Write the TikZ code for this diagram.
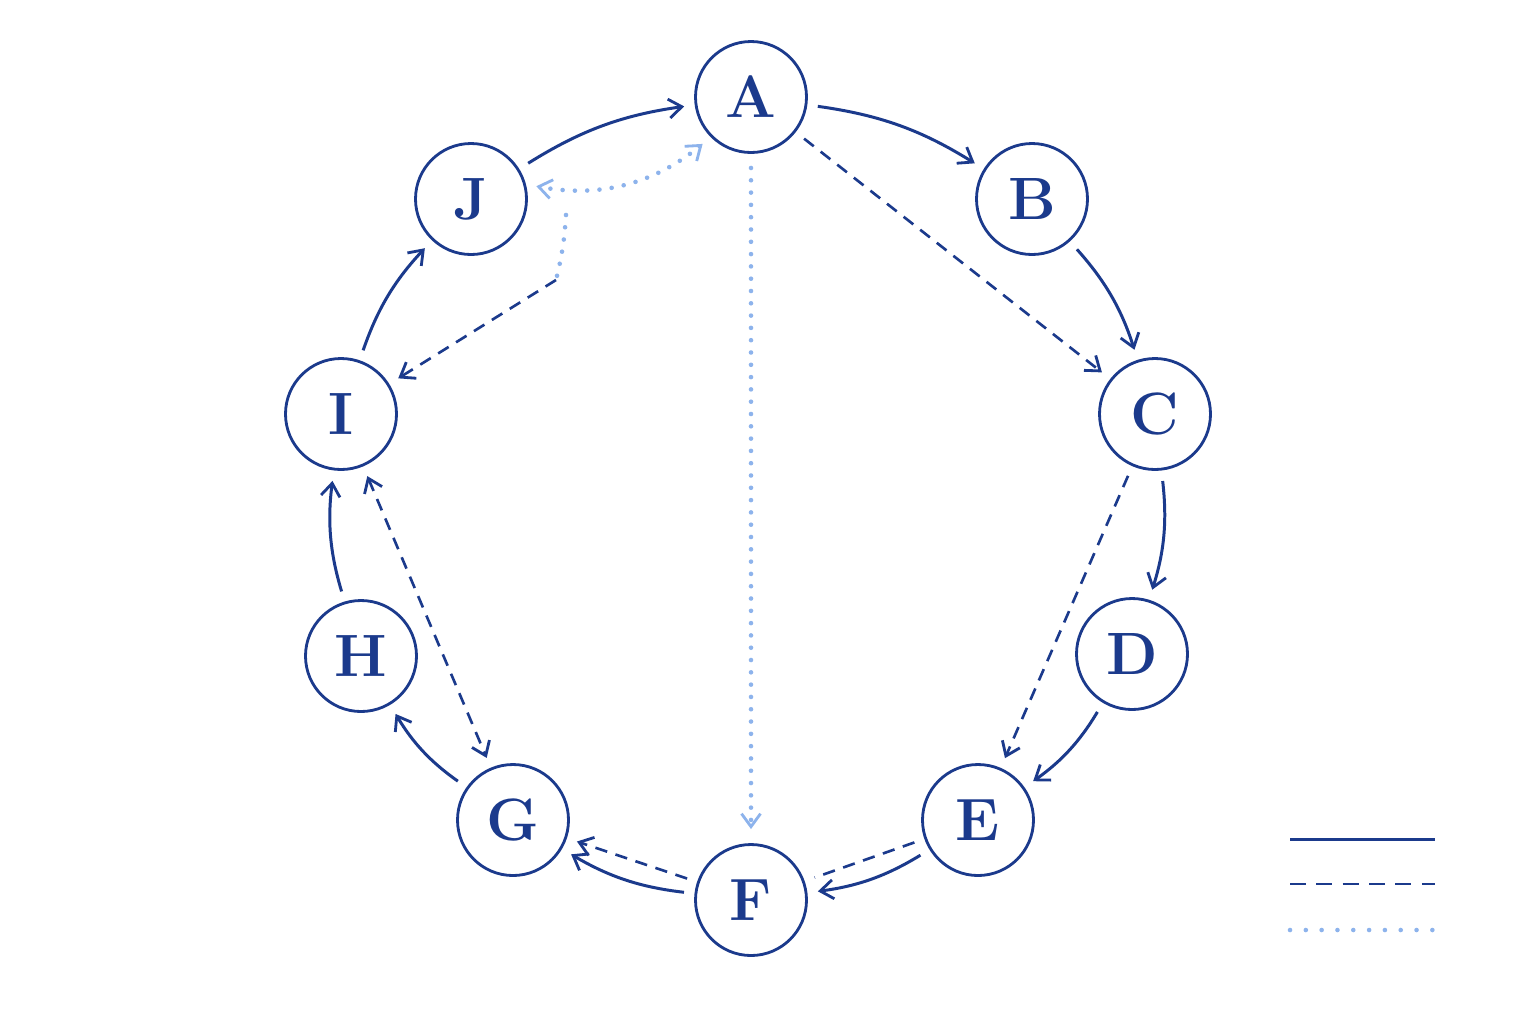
\documentclass[tikz,border=0pt]{standalone}
\usetikzlibrary{arrows.meta}
\begin{document}
\definecolor{dk}{HTML}{1B3A8C}
\definecolor{lt}{HTML}{8DB3EC}
\begin{tikzpicture}[
  nd/.style={circle,draw=dk,line width=1.6pt,minimum size=2.22cm,inner sep=0pt,text=dk,font=\fontsize{34}{38}\selectfont\bfseries},
  tb/.tip={Straight Barb[length=2.6mm,width=3.8mm,line width=1.6pt]},
  sol/.style={dk,line width=1.7pt,-tb,shorten >=6pt,shorten <=6pt},
  dsh/.style={dk,line width=1.5pt,dash pattern=on 7pt off 5pt,shorten >=6pt,shorten <=6pt},
  dot/.style={lt,line width=2.6pt,line cap=round,dash pattern=on 0pt off 7pt}]
\useasboundingbox[fill=white] (0,0) rectangle (30.72,-20.48);
\node[nd] (A) at (15.02,-1.94) {A};
\node[nd] (B) at (20.64,-3.98) {B};
\node[nd] (C) at (23.10,-8.28) {C};
\node[nd] (D) at (22.64,-13.08) {D};
\node[nd] (E) at (19.56,-16.40) {E};
\node[nd] (F) at (15.02,-18.00) {F};
\node[nd] (G) at (10.26,-16.40) {G};
\node[nd] (H) at (7.22,-13.12) {H};
\node[nd] (I) at (6.82,-8.28) {I};
\node[nd] (J) at (9.42,-3.98) {J};
\draw[sol] (A) to[bend left=12] (B);
\draw[sol] (B) to[bend left=12] (C);
\draw[sol] (C) to[bend left=12] (D);
\draw[sol] (D) to[bend left=12] (E);
\draw[sol] (E) to[bend left=12] (F);
\draw[sol] (F) to[bend left=12] (G);
\draw[sol] (G) to[bend left=12] (H);
\draw[sol] (H) to[bend left=12] (I);
\draw[sol] (I) to[bend left=12] (J);
\draw[sol] (J) to[bend left=12] (A);
\draw[dsh,-tb] (A) -- (C);
\draw[dsh,-tb] (C) -- (E);
\draw[dsh] (E) -- (F);
\draw[dsh,-tb] (F) -- (G);
\draw[dsh,tb-tb] (I) -- (G);
\draw[dot,-tb,shorten >=8pt,shorten <=8pt] (A) -- (F);
\draw[dot,tb-tb,shorten >=6pt,shorten <=6pt] (A.-135) to[bend left=25] (J.15);
\coordinate (k1) at (11.32,-4.3);
\coordinate (k2) at (11.12,-5.6);
\draw[dot] (k1) to[bend left=5] (k2);
\draw[dsh,-tb,shorten <=0pt] (k2) -- (I);
\coordinate (l1) at (25.8,-16.78); \coordinate (l2) at (28.7,-16.78);
\coordinate (l3) at (25.8,-17.68); \coordinate (l4) at (28.7,-17.68);
\coordinate (l5) at (25.8,-18.6); \coordinate (l6) at (28.7,-18.6);
\draw[dk,line width=1.7pt] (l1) -- (l2);
\draw[dk,line width=1.5pt,dash pattern=on 9pt off 6pt] (l3) -- (l4);
\draw[dot,dash pattern=on 0pt off 9pt] (l5) -- (l6);
\end{tikzpicture}
\end{document}
